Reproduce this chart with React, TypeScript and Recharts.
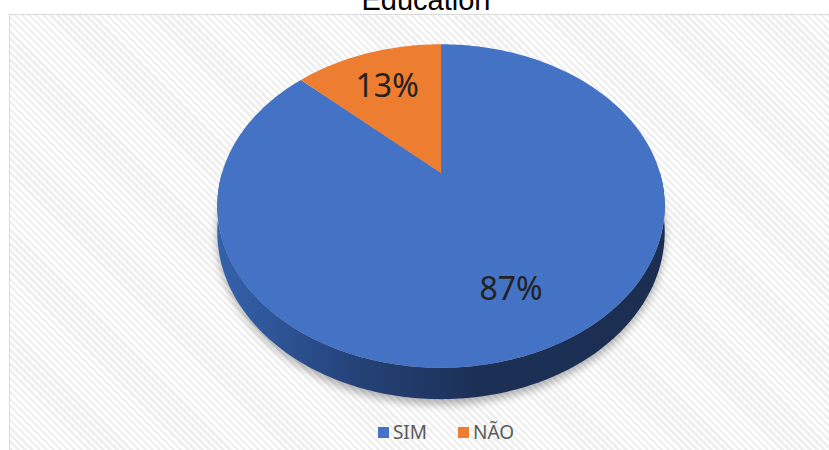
import { PieChart, Pie } from "recharts";

const categories = ["SIM", "NÃO"];
const shares = [87, 13];
const sliceColors = ["#4472c4", "#ed7d31"];
const labels = ["87%", "13%"];

const data = categories.map((name, i) => ({ name, value: shares[i], label: labels[i], fill: sliceColors[i] }));

// fake perspective for the tilted 3D pie
const R = 219;
const S = 155;
const K = 0.204;
const DROP = 25;

const proj = (cx: number, cy: number, deg: number, r = 1, drop = 0) => {
  const a = (deg * Math.PI) / 180;
  const u = r * Math.cos(a);
  const v = r * Math.sin(a);
  const w = 1 + K * v;
  return [cx + (R * u) / w, cy - (S * v) / w + drop / w];
};

const arcPoints = (cx: number, cy: number, from: number, to: number, drop = 0) => {
  const pts: number[][] = [];
  const n = Math.max(2, Math.ceil(Math.abs(to - from)));
  for (let i = 0; i <= n; i++) pts.push(proj(cx, cy, from + ((to - from) * i) / n, 1, drop));
  return pts;
};

const toPath = (pts: number[][]) => "M" + pts.map((p) => p[0].toFixed(2) + "," + p[1].toFixed(2)).join("L") + "Z";

const TopShape = (props: any) => {
  const { cx, cy, startAngle, endAngle, fill } = props;
  const pts = [[cx, cy], ...arcPoints(cx, cy, startAngle, endAngle)];
  return <path d={toPath(pts)} fill={fill} stroke="none" />;
};

const WallShape = (props: any) => {
  const { cx, cy, startAngle, endAngle } = props;
  const lo0 = Math.min(startAngle, endAngle);
  const hi0 = Math.max(startAngle, endAngle);
  const parts: any[] = [];
  [-360, 0, 360].forEach((k) => {
    const lo = Math.max(lo0, -180 + k);
    const hi = Math.min(hi0, 0 + k);
    if (hi > lo) {
      const top = arcPoints(cx, cy, lo, hi);
      const bottom = arcPoints(cx, cy, hi, lo, DROP);
      parts.push(<path key={k} d={toPath([...top, ...bottom])} fill="url(#wallGrad)" />);
    }
  });
  return <g>{parts}</g>;
};

const ShadowShape = (props: any) => {
  const { cx, cy, startAngle, endAngle } = props;
  const pts = [[cx, cy + DROP], ...arcPoints(cx, cy, startAngle, endAngle, DROP + 4)];
  return <path d={toPath(pts)} fill="#000" opacity={0.3} filter="url(#pieShadow)" />;
};

const renderLabel = (props: any) => {
  const { cx, cy, midAngle, payload } = props;
  const [x, y] = proj(cx, cy, midAngle, 0.7);
  return (
    <text x={x} y={y} textAnchor="middle" dominantBaseline="central" fontSize={32} fill="#222" fontFamily="'Noto Sans', sans-serif">
      {payload.label}
    </text>
  );
};

const Legend = () => (
  <div style={{ position: "absolute", left: 0, width: 892, top: 419, display: "flex", justifyContent: "center", fontFamily: "'Noto Sans', sans-serif", fontSize: 19, color: "#595959" }}>
    {categories.map((c, i) => (
      <div key={c} style={{ display: "flex", alignItems: "center", marginRight: i === 0 ? 31 : 0 }}>
        <span style={{ width: 11, height: 11, background: sliceColors[i], display: "inline-block", marginRight: 4 }} />
        <span>{c}</span>
      </div>
    ))}
  </div>
);

export default function App() {
  return (
    <div style={{ position: "absolute", left: 0, top: 0, width: 829, height: 450, overflow: "hidden", background: "#fff" }}>
      <div
        style={{
          position: "absolute",
          left: 9,
          top: 14,
          width: 840,
          height: 460,
          border: "1.5px solid #d9d9d9",
          background: "repeating-linear-gradient(45deg, #ffffff 0px, #ffffff 2.5px, #efefef 2.5px, #efefef 5px)",
        }}
      />
      <div style={{ position: "absolute", left: 0, width: 852, top: -14, textAlign: "center", fontFamily: "'Liberation Sans', Arial, sans-serif", fontSize: 29, lineHeight: "29px", color: "#000" }}>
        Education
      </div>
      <div style={{ position: "absolute", left: 0, top: 0 }}>
        <PieChart width={829} height={450} margin={{ top: 0, right: 0, bottom: 0, left: 0 }}>
          <defs>
            <linearGradient id="wallGrad" gradientUnits="userSpaceOnUse" x1={216} y1={0} x2={665} y2={0}>
              <stop offset="0%" stopColor="#3562ad" />
              <stop offset="30%" stopColor="#25437a" />
              <stop offset="60%" stopColor="#1c2f54" />
              <stop offset="100%" stopColor="#1b2e52" />
            </linearGradient>
            <filter id="pieShadow" x="-20%" y="-20%" width="140%" height="140%">
              <feGaussianBlur stdDeviation="4" />
            </filter>
          </defs>
          <Pie
            data={data}
            dataKey="value"
            nameKey="name"
            cx={441}
            cy={173}
            outerRadius={R}
            startAngle={90}
            endAngle={-270}
            stroke="none"
            isAnimationActive={false}
            shape={ShadowShape}
            inactiveShape={ShadowShape}
            activeShape={ShadowShape}
          />
          <Pie
            data={data}
            dataKey="value"
            nameKey="name"
            cx={441}
            cy={173}
            outerRadius={R}
            startAngle={90}
            endAngle={-270}
            stroke="none"
            isAnimationActive={false}
            shape={WallShape}
            inactiveShape={WallShape}
            activeShape={WallShape}
          />
          <Pie
            data={data}
            dataKey="value"
            nameKey="name"
            cx={441}
            cy={173}
            outerRadius={R}
            startAngle={90}
            endAngle={-270}
            stroke="none"
            isAnimationActive={false}
            shape={TopShape}
            inactiveShape={TopShape}
            activeShape={TopShape}
            label={renderLabel}
            labelLine={false}
          />
        </PieChart>
      </div>
      <Legend />
    </div>
  );
}
